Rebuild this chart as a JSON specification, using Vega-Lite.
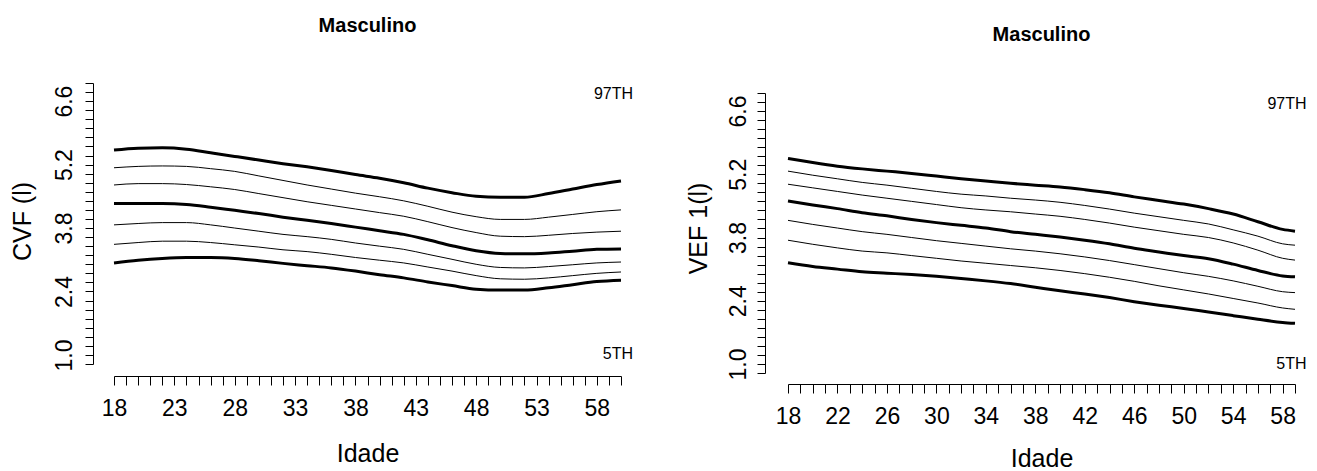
{
"$schema":"https://vega.github.io/schema/vega-lite/v6.json",
"background":"white",
"padding":{"left":10,"top":15,"right":5,"bottom":5},
"bounds":"flush",
"spacing":167,
"datasets":{
"cvf":[
{"p":97,"age":18,"v":5.52},{"p":97,"age":20,"v":5.56},{"p":97,"age":22,"v":5.57},{"p":97,"age":24,"v":5.54},{"p":97,"age":26,"v":5.46},{"p":97,"age":28,"v":5.38},{"p":97,"age":30,"v":5.30},{"p":97,"age":32,"v":5.22},{"p":97,"age":34,"v":5.15},{"p":97,"age":36,"v":5.07},{"p":97,"age":38,"v":4.98},{"p":97,"age":40,"v":4.90},{"p":97,"age":42,"v":4.80},{"p":97,"age":44,"v":4.68},{"p":97,"age":46,"v":4.58},{"p":97,"age":48,"v":4.50},{"p":97,"age":50,"v":4.48},{"p":97,"age":52,"v":4.48},{"p":97,"age":54,"v":4.56},{"p":97,"age":56,"v":4.66},{"p":97,"age":58,"v":4.76},{"p":97,"age":60,"v":4.84},
{"p":90,"age":18,"v":5.13},{"p":90,"age":20,"v":5.16},{"p":90,"age":22,"v":5.17},{"p":90,"age":24,"v":5.16},{"p":90,"age":26,"v":5.11},{"p":90,"age":28,"v":5.05},{"p":90,"age":30,"v":4.95},{"p":90,"age":32,"v":4.85},{"p":90,"age":34,"v":4.75},{"p":90,"age":36,"v":4.66},{"p":90,"age":38,"v":4.57},{"p":90,"age":40,"v":4.49},{"p":90,"age":42,"v":4.40},{"p":90,"age":44,"v":4.28},{"p":90,"age":46,"v":4.15},{"p":90,"age":48,"v":4.05},{"p":90,"age":50,"v":3.99},{"p":90,"age":52,"v":3.99},{"p":90,"age":54,"v":4.04},{"p":90,"age":56,"v":4.10},{"p":90,"age":58,"v":4.16},{"p":90,"age":60,"v":4.20},
{"p":75,"age":18,"v":4.75},{"p":75,"age":20,"v":4.78},{"p":75,"age":22,"v":4.78},{"p":75,"age":24,"v":4.76},{"p":75,"age":26,"v":4.71},{"p":75,"age":28,"v":4.65},{"p":75,"age":30,"v":4.56},{"p":75,"age":32,"v":4.47},{"p":75,"age":34,"v":4.38},{"p":75,"age":36,"v":4.30},{"p":75,"age":38,"v":4.22},{"p":75,"age":40,"v":4.14},{"p":75,"age":42,"v":4.06},{"p":75,"age":44,"v":3.94},{"p":75,"age":46,"v":3.81},{"p":75,"age":48,"v":3.70},{"p":75,"age":50,"v":3.62},{"p":75,"age":52,"v":3.61},{"p":75,"age":54,"v":3.64},{"p":75,"age":56,"v":3.68},{"p":75,"age":58,"v":3.71},{"p":75,"age":60,"v":3.73},
{"p":50,"age":18,"v":4.34},{"p":50,"age":20,"v":4.34},{"p":50,"age":22,"v":4.34},{"p":50,"age":24,"v":4.32},{"p":50,"age":26,"v":4.26},{"p":50,"age":28,"v":4.19},{"p":50,"age":30,"v":4.12},{"p":50,"age":32,"v":4.04},{"p":50,"age":34,"v":3.97},{"p":50,"age":36,"v":3.90},{"p":50,"age":38,"v":3.82},{"p":50,"age":40,"v":3.74},{"p":50,"age":42,"v":3.66},{"p":50,"age":44,"v":3.54},{"p":50,"age":46,"v":3.41},{"p":50,"age":48,"v":3.30},{"p":50,"age":50,"v":3.24},{"p":50,"age":52,"v":3.23},{"p":50,"age":54,"v":3.25},{"p":50,"age":56,"v":3.29},{"p":50,"age":58,"v":3.33},{"p":50,"age":60,"v":3.34},
{"p":25,"age":18,"v":3.87},{"p":25,"age":20,"v":3.90},{"p":25,"age":22,"v":3.92},{"p":25,"age":24,"v":3.92},{"p":25,"age":26,"v":3.87},{"p":25,"age":28,"v":3.80},{"p":25,"age":30,"v":3.73},{"p":25,"age":32,"v":3.66},{"p":25,"age":34,"v":3.61},{"p":25,"age":36,"v":3.55},{"p":25,"age":38,"v":3.47},{"p":25,"age":40,"v":3.40},{"p":25,"age":42,"v":3.33},{"p":25,"age":44,"v":3.22},{"p":25,"age":46,"v":3.11},{"p":25,"age":48,"v":3.00},{"p":25,"age":50,"v":2.93},{"p":25,"age":52,"v":2.92},{"p":25,"age":54,"v":2.95},{"p":25,"age":56,"v":2.99},{"p":25,"age":58,"v":3.03},{"p":25,"age":60,"v":3.05},
{"p":10,"age":18,"v":3.44},{"p":10,"age":20,"v":3.48},{"p":10,"age":22,"v":3.51},{"p":10,"age":24,"v":3.51},{"p":10,"age":26,"v":3.48},{"p":10,"age":28,"v":3.43},{"p":10,"age":30,"v":3.38},{"p":10,"age":32,"v":3.32},{"p":10,"age":34,"v":3.28},{"p":10,"age":36,"v":3.22},{"p":10,"age":38,"v":3.15},{"p":10,"age":40,"v":3.09},{"p":10,"age":42,"v":3.03},{"p":10,"age":44,"v":2.94},{"p":10,"age":46,"v":2.85},{"p":10,"age":48,"v":2.75},{"p":10,"age":50,"v":2.68},{"p":10,"age":52,"v":2.67},{"p":10,"age":54,"v":2.70},{"p":10,"age":56,"v":2.75},{"p":10,"age":58,"v":2.80},{"p":10,"age":60,"v":2.83},
{"p":5,"age":18,"v":3.03},{"p":5,"age":20,"v":3.09},{"p":5,"age":22,"v":3.13},{"p":5,"age":24,"v":3.15},{"p":5,"age":26,"v":3.15},{"p":5,"age":28,"v":3.13},{"p":5,"age":30,"v":3.08},{"p":5,"age":32,"v":3.02},{"p":5,"age":34,"v":2.97},{"p":5,"age":36,"v":2.92},{"p":5,"age":38,"v":2.85},{"p":5,"age":40,"v":2.77},{"p":5,"age":42,"v":2.70},{"p":5,"age":44,"v":2.61},{"p":5,"age":46,"v":2.53},{"p":5,"age":48,"v":2.45},{"p":5,"age":50,"v":2.43},{"p":5,"age":52,"v":2.43},{"p":5,"age":54,"v":2.48},{"p":5,"age":56,"v":2.55},{"p":5,"age":58,"v":2.62},{"p":5,"age":60,"v":2.65}
],
"vef":[
{"p":97,"age":18,"v":5.55},{"p":97,"age":20,"v":5.46},{"p":97,"age":22,"v":5.38},{"p":97,"age":24,"v":5.32},{"p":97,"age":26,"v":5.27},{"p":97,"age":28,"v":5.22},{"p":97,"age":30,"v":5.16},{"p":97,"age":32,"v":5.10},{"p":97,"age":34,"v":5.05},{"p":97,"age":36,"v":5.00},{"p":97,"age":38,"v":4.96},{"p":97,"age":40,"v":4.92},{"p":97,"age":42,"v":4.86},{"p":97,"age":44,"v":4.79},{"p":97,"age":46,"v":4.70},{"p":97,"age":48,"v":4.62},{"p":97,"age":50,"v":4.54},{"p":97,"age":52,"v":4.44},{"p":97,"age":54,"v":4.32},{"p":97,"age":56,"v":4.15},{"p":97,"age":58,"v":3.98},{"p":97,"age":59,"v":3.94},
{"p":90,"age":18,"v":5.27},{"p":90,"age":20,"v":5.18},{"p":90,"age":22,"v":5.10},{"p":90,"age":24,"v":5.02},{"p":90,"age":26,"v":4.96},{"p":90,"age":28,"v":4.89},{"p":90,"age":30,"v":4.82},{"p":90,"age":32,"v":4.76},{"p":90,"age":34,"v":4.72},{"p":90,"age":36,"v":4.67},{"p":90,"age":38,"v":4.63},{"p":90,"age":40,"v":4.58},{"p":90,"age":42,"v":4.51},{"p":90,"age":44,"v":4.43},{"p":90,"age":46,"v":4.34},{"p":90,"age":48,"v":4.26},{"p":90,"age":50,"v":4.18},{"p":90,"age":52,"v":4.10},{"p":90,"age":54,"v":3.97},{"p":90,"age":56,"v":3.83},{"p":90,"age":58,"v":3.66},{"p":90,"age":59,"v":3.63},
{"p":75,"age":18,"v":4.98},{"p":75,"age":20,"v":4.90},{"p":75,"age":22,"v":4.82},{"p":75,"age":24,"v":4.74},{"p":75,"age":26,"v":4.67},{"p":75,"age":28,"v":4.60},{"p":75,"age":30,"v":4.53},{"p":75,"age":32,"v":4.46},{"p":75,"age":34,"v":4.41},{"p":75,"age":36,"v":4.37},{"p":75,"age":38,"v":4.32},{"p":75,"age":40,"v":4.27},{"p":75,"age":42,"v":4.20},{"p":75,"age":44,"v":4.12},{"p":75,"age":46,"v":4.03},{"p":75,"age":48,"v":3.95},{"p":75,"age":50,"v":3.87},{"p":75,"age":52,"v":3.80},{"p":75,"age":54,"v":3.68},{"p":75,"age":56,"v":3.52},{"p":75,"age":58,"v":3.34},{"p":75,"age":59,"v":3.30},
{"p":50,"age":18,"v":4.61},{"p":50,"age":20,"v":4.52},{"p":50,"age":22,"v":4.44},{"p":50,"age":24,"v":4.35},{"p":50,"age":26,"v":4.28},{"p":50,"age":28,"v":4.20},{"p":50,"age":30,"v":4.13},{"p":50,"age":32,"v":4.07},{"p":50,"age":34,"v":4.01},{"p":50,"age":36,"v":3.93},{"p":50,"age":38,"v":3.87},{"p":50,"age":40,"v":3.81},{"p":50,"age":42,"v":3.74},{"p":50,"age":44,"v":3.66},{"p":50,"age":46,"v":3.56},{"p":50,"age":48,"v":3.48},{"p":50,"age":50,"v":3.40},{"p":50,"age":52,"v":3.33},{"p":50,"age":54,"v":3.21},{"p":50,"age":56,"v":3.07},{"p":50,"age":58,"v":2.95},{"p":50,"age":59,"v":2.93},
{"p":25,"age":18,"v":4.18},{"p":25,"age":20,"v":4.09},{"p":25,"age":22,"v":4.01},{"p":25,"age":24,"v":3.93},{"p":25,"age":26,"v":3.87},{"p":25,"age":28,"v":3.80},{"p":25,"age":30,"v":3.73},{"p":25,"age":32,"v":3.67},{"p":25,"age":34,"v":3.61},{"p":25,"age":36,"v":3.55},{"p":25,"age":38,"v":3.50},{"p":25,"age":40,"v":3.44},{"p":25,"age":42,"v":3.37},{"p":25,"age":44,"v":3.29},{"p":25,"age":46,"v":3.20},{"p":25,"age":48,"v":3.11},{"p":25,"age":50,"v":3.02},{"p":25,"age":52,"v":2.94},{"p":25,"age":54,"v":2.84},{"p":25,"age":56,"v":2.72},{"p":25,"age":58,"v":2.60},{"p":25,"age":59,"v":2.58},
{"p":10,"age":18,"v":3.74},{"p":10,"age":20,"v":3.65},{"p":10,"age":22,"v":3.57},{"p":10,"age":24,"v":3.50},{"p":10,"age":26,"v":3.46},{"p":10,"age":28,"v":3.40},{"p":10,"age":30,"v":3.34},{"p":10,"age":32,"v":3.28},{"p":10,"age":34,"v":3.23},{"p":10,"age":36,"v":3.18},{"p":10,"age":38,"v":3.13},{"p":10,"age":40,"v":3.07},{"p":10,"age":42,"v":3.00},{"p":10,"age":44,"v":2.92},{"p":10,"age":46,"v":2.83},{"p":10,"age":48,"v":2.73},{"p":10,"age":50,"v":2.64},{"p":10,"age":52,"v":2.55},{"p":10,"age":54,"v":2.45},{"p":10,"age":56,"v":2.35},{"p":10,"age":58,"v":2.24},{"p":10,"age":59,"v":2.21},
{"p":5,"age":18,"v":3.24},{"p":5,"age":20,"v":3.16},{"p":5,"age":22,"v":3.10},{"p":5,"age":24,"v":3.04},{"p":5,"age":26,"v":3.01},{"p":5,"age":28,"v":2.98},{"p":5,"age":30,"v":2.94},{"p":5,"age":32,"v":2.89},{"p":5,"age":34,"v":2.84},{"p":5,"age":36,"v":2.78},{"p":5,"age":38,"v":2.70},{"p":5,"age":40,"v":2.62},{"p":5,"age":42,"v":2.55},{"p":5,"age":44,"v":2.47},{"p":5,"age":46,"v":2.38},{"p":5,"age":48,"v":2.30},{"p":5,"age":50,"v":2.23},{"p":5,"age":52,"v":2.15},{"p":5,"age":54,"v":2.07},{"p":5,"age":56,"v":1.99},{"p":5,"age":58,"v":1.92},{"p":5,"age":59,"v":1.90}
],
"labL":[{"t":"97TH","age":61.0,"v":6.76},{"t":"5TH","age":61.0,"v":1.02}],
"labR":[{"t":"97TH","age":59.93,"v":6.75},{"t":"5TH","age":59.93,"v":0.99}]
},
"hconcat":[
{
"width":507,"height":281,
"title":{"text":"Masculino","fontSize":20,"fontWeight":"bold","font":"Liberation Sans","frame":"group","anchor":"middle","baseline":"bottom","offset":27,"color":"black"},
"encoding":{
"x":{"field":"age","type":"quantitative","scale":{"domain":[18,60],"nice":false,"zero":false},
"axis":{"title":"Idade","offset":12,"tickSize":9,"labelPadding":23,"labelBaseline":"middle","labelFontSize":23,"labelFlush":false,"labelOverlap":false,
"values":[18,19,20,21,22,23,24,25,26,27,28,29,30,31,32,33,34,35,36,37,38,39,40,41,42,43,44,45,46,47,48,49,50,51,52,53,54,55,56,57,58,59,60],
"labelExpr":"(datum.value - 18) % 5 == 0 ? '' + datum.value : ''",
"titleFontSize":25,"titleY":77,"titleBaseline":"middle"}},
"y":{"field":"v","type":"quantitative","scale":{"domain":[0.8,7.0],"nice":false,"zero":false},
"axis":{"title":"CVF (l)","offset":21,"tickSize":8,"labelAngle":-90,"labelAlign":"center","labelBaseline":"alphabetic","labelPadding":14,"labelFontSize":23,"labelOverlap":false,"labelFlush":false,
"values":[0.8,1.0,1.2,1.4,1.6,1.8,2.0,2.2,2.4,2.6,2.8,3.0,3.2,3.4,3.6,3.8,4.0,4.2,4.4,4.6,4.8,5.0,5.2,5.4,5.6,5.8,6.0,6.2,6.4,6.6,6.8,7.0],
"labelExpr":"indexof([1, 2.4, 3.8, 5.2, 6.6], datum.value) >= 0 ? format(datum.value, '.1f') : ''",
"titleFontSize":25,"titleAngle":-90,"titleX":-71,"titleY":138,"titleBaseline":"middle","titleAlign":"center"}}
},
"layer":[
{"data":{"name":"cvf"},"transform":[{"filter":"datum.p == 97 || datum.p == 50 || datum.p == 5"}],
"mark":{"type":"line","color":"black","strokeWidth":3,"interpolate":"monotone"},
"encoding":{"detail":{"field":"p","type":"nominal"}}},
{"data":{"name":"cvf"},"transform":[{"filter":"datum.p != 97 && datum.p != 50 && datum.p != 5"}],
"mark":{"type":"line","color":"black","strokeWidth":1,"interpolate":"monotone"},
"encoding":{"detail":{"field":"p","type":"nominal"}}},
{"data":{"name":"labL"},
"mark":{"type":"text","align":"right","baseline":"middle","font":"Liberation Sans","fontSize":16,"color":"black"},
"encoding":{"text":{"field":"t","type":"nominal"}}}
]
},
{
"width":507,"height":290,
"title":{"text":"Masculino","fontSize":20,"fontWeight":"bold","font":"Liberation Sans","frame":"group","anchor":"middle","baseline":"bottom","offset":18,"color":"black"},
"encoding":{
"x":{"field":"age","type":"quantitative","scale":{"domain":[18,59],"nice":false,"zero":false},
"axis":{"title":"Idade","offset":11,"tickSize":9,"labelPadding":23,"labelBaseline":"middle","labelFontSize":23,"labelFlush":false,"labelOverlap":false,
"values":[18,19,20,21,22,23,24,25,26,27,28,29,30,31,32,33,34,35,36,37,38,39,40,41,42,43,44,45,46,47,48,49,50,51,52,53,54,55,56,57,58,59],
"labelExpr":"(datum.value - 18) % 4 == 0 ? '' + datum.value : ''",
"titleFontSize":25,"titleY":74,"titleBaseline":"middle"}},
"y":{"field":"v","type":"quantitative","scale":{"domain":[0.8,7.0],"nice":false,"zero":false,"range":[290,10]},
"axis":{"title":"VEF 1(l)","offset":23,"tickSize":8,"labelAngle":-90,"labelAlign":"center","labelBaseline":"alphabetic","labelPadding":12,"labelFontSize":23,"labelOverlap":false,"labelFlush":false,
"values":[0.8,1.0,1.2,1.4,1.6,1.8,2.0,2.2,2.4,2.6,2.8,3.0,3.2,3.4,3.6,3.8,4.0,4.2,4.4,4.6,4.8,5.0,5.2,5.4,5.6,5.8,6.0,6.2,6.4,6.6,6.8,7.0],
"labelExpr":"indexof([1, 2.4, 3.8, 5.2, 6.6], datum.value) >= 0 ? format(datum.value, '.1f') : ''",
"titleFontSize":25,"titleAngle":-90,"titleX":-67,"titleY":145,"titleBaseline":"middle","titleAlign":"center"}}
},
"layer":[
{"data":{"name":"vef"},"transform":[{"filter":"datum.p == 97 || datum.p == 50 || datum.p == 5"}],
"mark":{"type":"line","color":"black","strokeWidth":3,"interpolate":"monotone"},
"encoding":{"detail":{"field":"p","type":"nominal"}}},
{"data":{"name":"vef"},"transform":[{"filter":"datum.p != 97 && datum.p != 50 && datum.p != 5"}],
"mark":{"type":"line","color":"black","strokeWidth":1,"interpolate":"monotone"},
"encoding":{"detail":{"field":"p","type":"nominal"}}},
{"data":{"name":"labR"},
"mark":{"type":"text","align":"right","baseline":"middle","font":"Liberation Sans","fontSize":16,"color":"black"},
"encoding":{"text":{"field":"t","type":"nominal"}}}
]
}
],
"config":{
"view":{"stroke":null},
"axis":{"grid":false,"domainColor":"black","tickColor":"black","labelColor":"black","titleColor":"black","labelFont":"Liberation Sans","titleFont":"Liberation Sans","titleFontWeight":"normal","domainWidth":1,"tickWidth":1}
}
}
